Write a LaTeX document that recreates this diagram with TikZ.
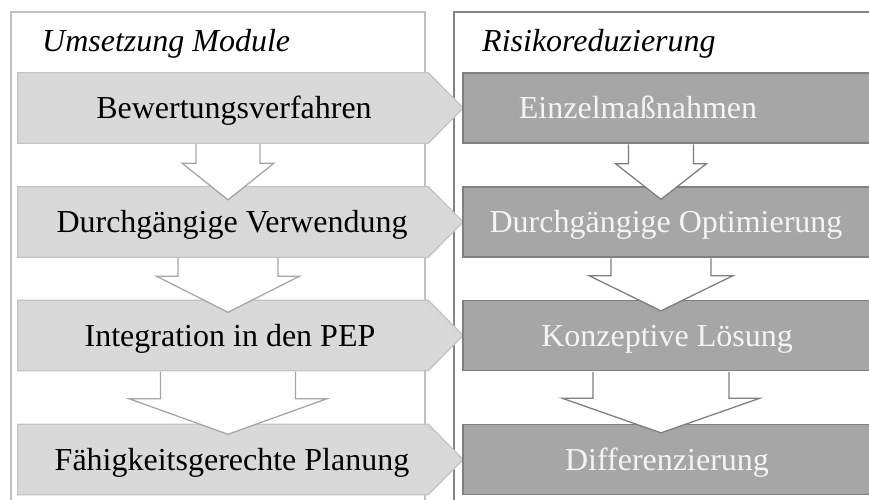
\documentclass[tikz,border=0pt]{standalone}
\usepackage{fontspec}
\setmainfont{Liberation Serif}
\usetikzlibrary{calc}

\definecolor{chevfill}{HTML}{D9D9D9}
\definecolor{chevline}{HTML}{C4C4C4}
\definecolor{darkfill}{HTML}{A6A6A6}
\definecolor{darkline}{HTML}{808080}
\definecolor{lpanel}{HTML}{C0C0C0}
\definecolor{rpanel}{HTML}{858585}
\definecolor{larrowline}{HTML}{A6A6A6}
\definecolor{rarrowline}{HTML}{7F7F7F}
\definecolor{lighttext}{HTML}{F4F4F4}

% block arrow from the bottom of one box into the top of the next
% #1 style, #2 upper node, #3 lower node, #4 centre x, #5 shaft half width,
% #6 head half width, #7 shaft length, #8 depth of the tip inside the lower box
\newcommand{\blockarrow}[8]{%
  \filldraw[#1] let \p1=(#2.south), \p2=(#3.north) in
    (#4pt-#5pt,\y1-0.8pt) -- (#4pt-#5pt,\y1-#7pt) -- (#4pt-#6pt,\y1-#7pt)
    -- (#4pt,\y2-#8pt) -- (#4pt+#6pt,\y1-#7pt) -- (#4pt+#5pt,\y1-#7pt)
    -- (#4pt+#5pt,\y1-0.8pt);}

% chevron outline around a rectangular body node
\newcommand{\chevron}[1]{%
  \filldraw[chevstyle] (#1.north west) -- (#1.north east)
    -- ($(#1.east)+(35,0)$) -- (#1.south east) -- (#1.south west) -- cycle;}

\begin{document}
\begin{tikzpicture}[x=1pt,y=-1pt,
  panelL/.style={draw=lpanel,line width=2pt,fill=white},
  panelR/.style={draw=rpanel,line width=2pt,fill=white},
  chevbody/.style={rectangle,minimum width=410pt,minimum height=70pt,inner sep=0pt},
  chevstyle/.style={fill=chevfill,draw=chevline,line width=1.3pt,line join=miter},
  darkbox/.style={rectangle,minimum width=420pt,minimum height=70pt,inner sep=0pt,
    fill=darkfill,draw=darkline,line width=1.3pt},
  ltext/.style={font=\fontsize{32}{38}\selectfont,text=black,inner sep=0pt,anchor=base},
  rtext/.style={font=\fontsize{32}{38}\selectfont,text=lighttext,inner sep=0pt,anchor=base},
  title/.style={font=\fontsize{32}{38}\selectfont\itshape,inner sep=0pt,anchor=base west},
  larrow/.style={fill=white,draw=larrowline,line width=1.3pt,line join=miter},
  rarrow/.style={fill=white,draw=rarrowline,line width=1.3pt,line join=miter}]

\useasboundingbox (0,0) rectangle (869,500);
\clip (0,0) rectangle (869,500);

% the two columns
\draw[panelL] (11,520) -- (11,12) -- (425,12) -- (425,520);
\draw[panelR] (454,520) -- (454,12) -- (880,12) -- (880,520);
\node[title] (tl) at (42,52) {Umsetzung Module};
\node[title] (tr) at (482,52) {Risikoreduzierung};

% left column: chevrons
\node[chevbody] (c1) at (223,108) {};
\node[chevbody] (c2) at (223,222) {};
\node[chevbody] (c3) at (223,335.5) {};
\node[chevbody] (c4) at (223,459.5) {};
\chevron{c1}
\chevron{c2}
\chevron{c3}
\chevron{c4}
\node[ltext] (t1) at (234,118.5) {Bewertungsverfahren};
\node[ltext] (t2) at (232,232.5) {Durchgängige Verwendung};
\node[ltext] (t3) at (230,346) {Integration in den PEP};
\node[ltext] (t4) at (232,470) {Fähigkeitsgerechte Planung};

% right column: dark boxes
\node[darkbox] (d1) at (673,108) {};
\node[darkbox] (d2) at (673,222) {};
\node[darkbox] (d3) at (673,335.5) {};
\node[darkbox] (d4) at (673,459.5) {};
\node[rtext] (u1) at (638,118.5) {Einzelmaßnahmen};
\node[rtext] (u2) at (666,232.5) {Durchgängige Optimierung};
\node[rtext] (u3) at (667,346) {Konzeptive Lösung};
\node[rtext] (u4) at (667,470) {Differenzierung};

% block arrows between the steps
\blockarrow{larrow}{c1}{c2}{228}{32}{46}{20}{13}
\blockarrow{larrow}{c2}{c3}{228}{50}{71.5}{19}{12}
\blockarrow{larrow}{c3}{c4}{228}{67.5}{99}{28}{10}
\blockarrow{rarrow}{d1}{d2}{661}{32.5}{45.5}{20}{13}
\blockarrow{rarrow}{d2}{d3}{661}{50}{72}{18}{11}
\blockarrow{rarrow}{d3}{d4}{661}{68}{99}{27}{9}
\end{tikzpicture}
\end{document}
